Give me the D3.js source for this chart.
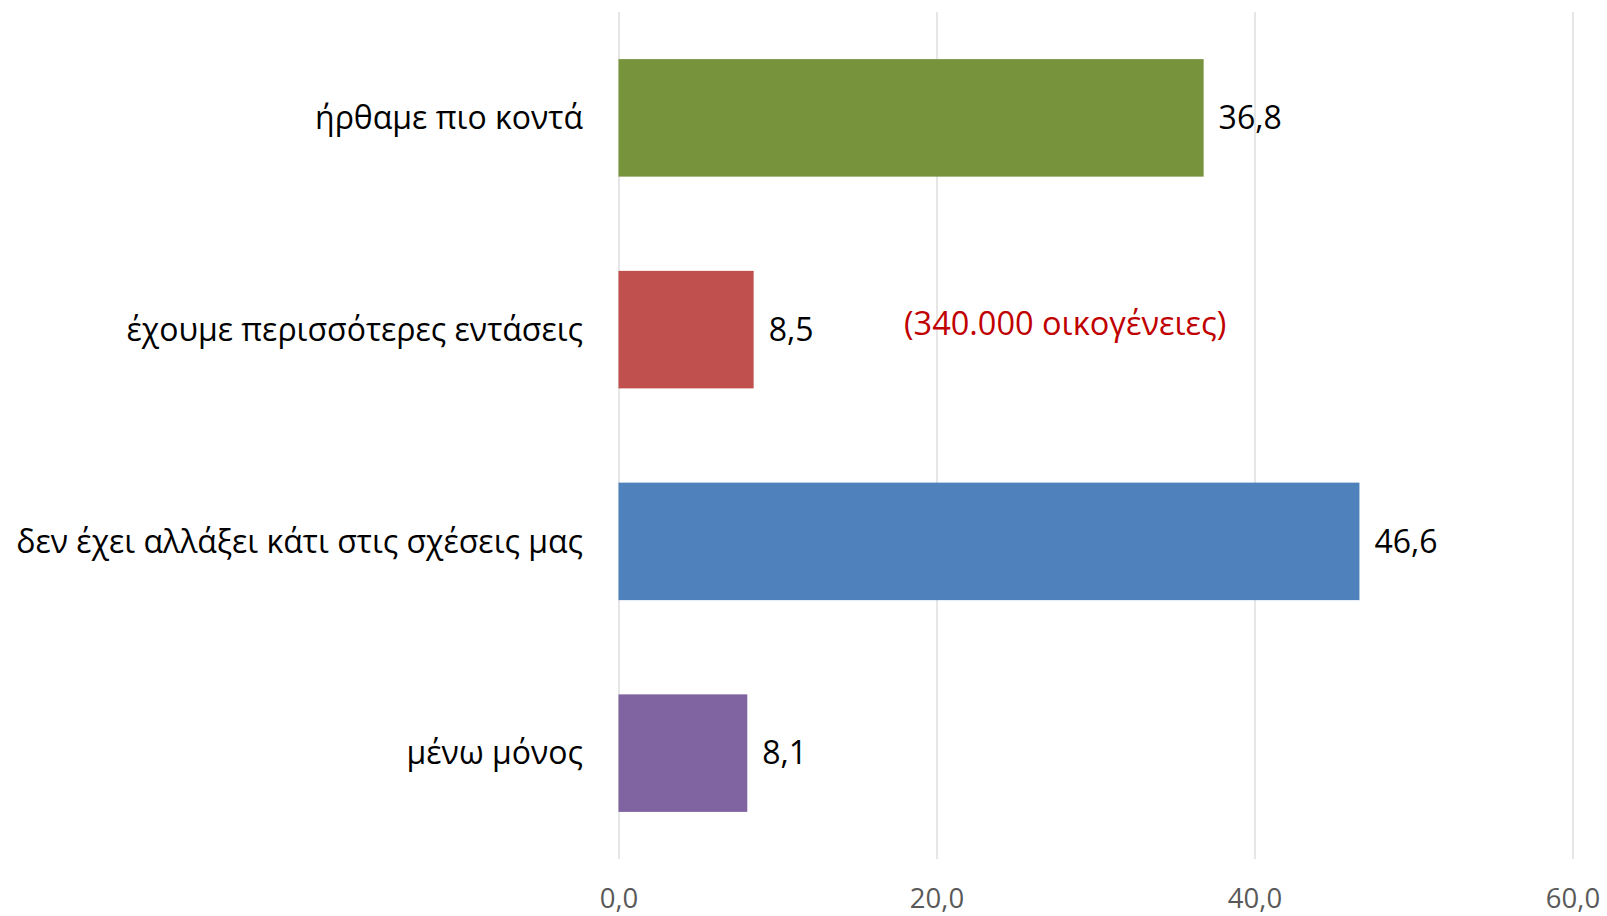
<!DOCTYPE html>
<html><head><meta charset="utf-8">
<script src="https://cdn.jsdelivr.net/npm/d3@7"></script>
<style>
html,body{margin:0;padding:0;background:#fff;}
svg{display:block;font-family:"Open Sans","Noto Sans",sans-serif;}
</style></head>
<body><svg id="chart" width="1607" height="916"></svg>
<script>
const categories = ["ήρθαμε πιο κοντά","έχουμε περισσότερες εντάσεις","δεν έχει αλλάξει κάτι στις σχέσεις μας","μένω μόνος"];
const values = [36.8, 8.5, 46.6, 8.1];
const colors = ["#77933C","#C0504D","#4F81BD","#8064A2"];
const tickValues = [0, 20, 40, 60];
const annotation = "(340.000 οικογένειες)";

(function(){
const svg = d3.select("#chart");
const pLeft = 618.5, pRight = 1572.5, pTop = 12, pBottom = 859;
const x = d3.scaleLinear().domain([0, 60]).range([pLeft, pRight]);
const y = d3.scaleBand().domain(categories).range([pTop, pBottom]).paddingInner(0.445).paddingOuter(0.2225);
const fmt = v => d3.format(".1f")(v).replace(".", ",");

const ax = svg.append("g").attr("transform", `translate(0,${pBottom})`)
  .call(d3.axisBottom(x).tickValues(tickValues).tickSize(-(pBottom - pTop)).tickSizeOuter(0).tickPadding(29).tickFormat(fmt));
ax.select(".domain").remove();
ax.selectAll(".tick line").attr("stroke", "#D9D9D9").attr("stroke-width", 1.3);
ax.selectAll(".tick text").attr("fill", "#595959").attr("font-size", 27.5).attr("font-family", "Open Sans");

svg.append("g").selectAll("rect").data(values).join("rect")
  .attr("x", x(0)).attr("y", (d, i) => y(categories[i]))
  .attr("width", d => x(d) - x(0)).attr("height", y.bandwidth())
  .attr("fill", (d, i) => colors[i]);

svg.append("g").selectAll("text").data(values).join("text")
  .attr("x", d => x(d) + 15).attr("y", (d, i) => y(categories[i]) + y.bandwidth() / 2)
  .attr("dy", "0.35em").attr("font-size", 32).attr("fill", "#000")
  .text(d => fmt(d));

svg.append("g").selectAll("text").data(categories).join("text")
  .attr("x", 583).attr("y", d => y(d) + y.bandwidth() / 2)
  .attr("dy", "0.35em").attr("text-anchor", "end").attr("font-size", 32).attr("fill", "#000")
  .text(d => d);

svg.append("text").attr("x", 904).attr("y", 335).attr("font-size", 32.5).attr("fill", "#C00000")
  .text(annotation);
})();
</script></body></html>
